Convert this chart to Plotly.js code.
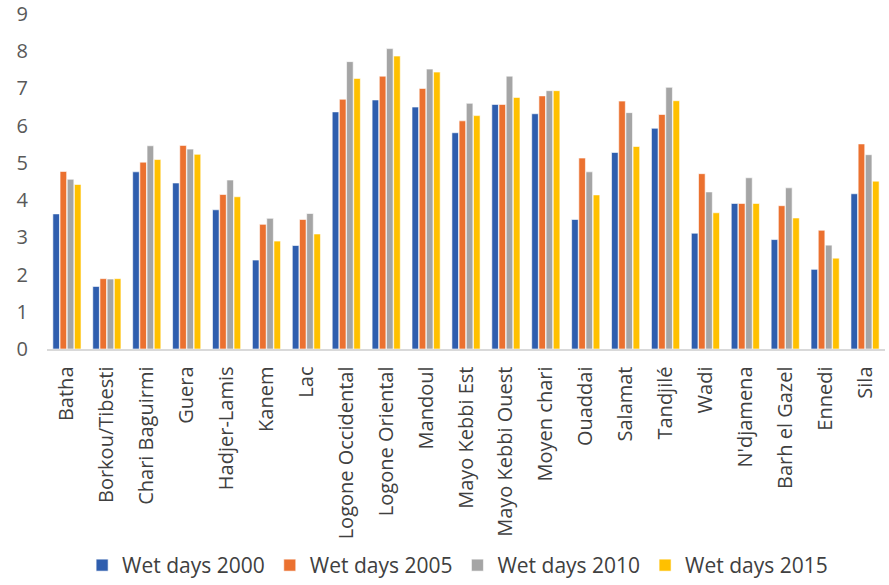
<!DOCTYPE html>
<html>
<head>
<meta charset="utf-8">
<script src="https://cdn.plot.ly/plotly-3.0.1.min.js"></script>
<style>html,body{margin:0;padding:0;background:#fff;}#chart{width:889px;height:585px;}</style>
</head>
<body>
<div id="chart"></div>
<script>
const regions = ["Batha","Borkou/Tibesti","Chari Baguirmi","Guera","Hadjer-Lamis","Kanem","Lac","Logone Occidental","Logone Oriental","Mandoul","Mayo Kebbi Est","Mayo Kebbi Ouest","Moyen chari","Ouaddai","Salamat","Tandjilé","Wadi","N'djamena","Barh el Gazel","Ennedi","Sila"];
const wet2000 = [3.63,1.68,4.76,4.46,3.74,2.39,2.78,6.37,6.69,6.50,5.81,6.57,6.32,3.48,5.28,5.93,3.11,3.91,2.94,2.14,4.17];
const wet2005 = [4.77,1.89,5.02,5.47,4.15,3.35,3.48,6.71,7.33,7.00,6.13,6.57,6.80,5.13,6.66,6.30,4.71,3.91,3.85,3.19,5.51];
const wet2010 = [4.56,1.88,5.46,5.37,4.54,3.51,3.64,7.72,8.07,7.52,6.60,7.33,6.94,4.76,6.35,7.03,4.22,4.60,4.33,2.79,5.22];
const wet2015 = [4.42,1.89,5.09,5.23,4.09,2.90,3.09,7.27,7.87,7.44,6.27,6.76,6.94,4.14,5.44,6.67,3.66,3.91,3.52,2.44,4.51];
const seriesNames = ["Wet days 2000","Wet days 2005","Wet days 2010","Wet days 2015"];
const colors = ["#2F5EAE","#EB7130","#A5A5A5","#FFC000"];
const series = [wet2000, wet2005, wet2010, wet2015];
const traces = series.map((v,i)=>({
  type:'bar', x:regions, y:v, name:seriesNames[i],
  marker:{color:colors[i], line:{color:'#ffffff', width:0.6}}
}));
const layout = {
  width:889, height:585,
  margin:{l:47, r:4, t:14, b:236, autoexpand:false},
  paper_bgcolor:'#fff', plot_bgcolor:'#fff',
  barmode:'group', bargap:0.28, bargroupgap:0.08,
  font:{family:'"Open Sans", sans-serif', color:'#404040'},
  xaxis:{automargin:false, tickangle:-90, tickfont:{size:20, color:'#404040'}, showline:true, linecolor:'#d9d9d9', linewidth:1.5, ticks:'', showgrid:false, ticklabelstandoff:8},
  yaxis:{automargin:false, range:[0,9], dtick:1, tickfont:{size:20, color:'#595959'}, showgrid:false, zeroline:false, showline:false, ticks:'', ticklabelstandoff:18},
  showlegend:true,
  legend:{orientation:'h', x:0.49, xanchor:'center', y:-0.585, yanchor:'top', font:{size:21, color:'#404040'}, itemwidth:30, traceorder:'normal'}
};
Plotly.newPlot('chart', traces, layout, {displayModeBar:false, staticPlot:true});
</script>
</body>
</html>
